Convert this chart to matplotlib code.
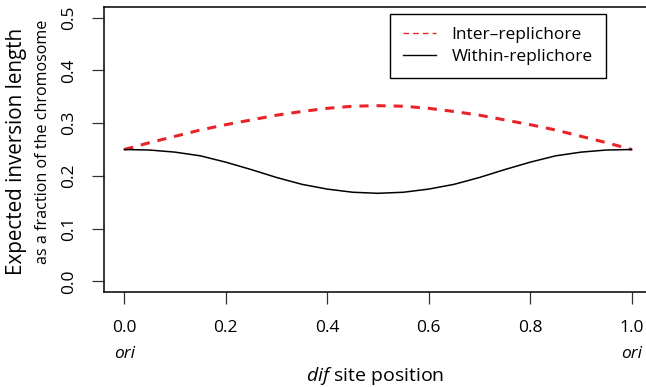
import matplotlib
matplotlib.use("Agg")
import matplotlib.pyplot as plt
import matplotlib.transforms as mtransforms
from matplotlib.lines import Line2D

plt.rcParams['font.family'] = ['Open Sans', 'DejaVu Sans']
plt.rcParams['mathtext.fontset'] = 'custom'
plt.rcParams['mathtext.rm'] = 'Open Sans'
plt.rcParams['mathtext.it'] = 'Open Sans:italic'

# data
dif_position = [0.00, 0.05, 0.10, 0.15, 0.20, 0.25, 0.30, 0.35, 0.40, 0.45, 0.50,
                0.55, 0.60, 0.65, 0.70, 0.75, 0.80, 0.85, 0.90, 0.95, 1.00]
inter_replichore = [0.250, 0.263, 0.275, 0.287, 0.297, 0.306, 0.315, 0.322, 0.328, 0.332, 0.333,
                    0.332, 0.328, 0.322, 0.315, 0.306, 0.297, 0.287, 0.275, 0.263, 0.250]
within_replichore = [0.250, 0.249, 0.245, 0.238, 0.226, 0.212, 0.197, 0.184, 0.175, 0.169, 0.167,
                     0.169, 0.175, 0.184, 0.197, 0.212, 0.226, 0.238, 0.245, 0.249, 0.250]
x_ticks = [0.0, 0.2, 0.4, 0.6, 0.8, 1.0]
x_tick_labels = ["0.0", "0.2", "0.4", "0.6", "0.8", "1.0"]
y_ticks = [0.0, 0.1, 0.2, 0.3, 0.4, 0.5]
y_tick_labels = ["0.0", "0.1", "0.2", "0.3", "0.4", "0.5"]
series_names = ["Inter\u2013replichore", "Within-replichore"]

W, H = 646, 387
fig = plt.figure(figsize=(W / 100, H / 100), dpi=100)
left, right, bottom, top = 104, 652, 292, 7
ax = fig.add_axes([left / W, 1 - bottom / H, (right - left) / W, (bottom - top) / H])

red = "#e8232a"
ax.plot(dif_position, inter_replichore, color=red, lw=2.2, ls=(0, (3.0, 2.6)))
ax.plot(dif_position, within_replichore, color="black", lw=1.1)

ax.set_xlim(-0.04, 1.04)
ax.set_ylim(-0.02, 0.52)
ax.spines['right'].set_visible(False)
for s in ['left', 'top', 'bottom']:
    ax.spines[s].set_linewidth(1.1)

ax.set_xticks(x_ticks)
ax.set_xticklabels(x_tick_labels)
ax.set_yticks(y_ticks)
ax.set_yticklabels(y_tick_labels, rotation=90, va='center')
ax.tick_params(axis='both', direction='out', length=8.5, width=0.9, labelsize=12.5, color='#333333')
ax.tick_params(axis='x', pad=12)
ax.tick_params(axis='y', pad=11)

trans = mtransforms.blended_transform_factory(ax.transData, fig.transFigure)
for xv in (0.0, 1.0):
    ax.text(xv, 1 - 354 / H, "ori", transform=trans, ha='center', va='center',
            fontsize=12.5, style='italic')

fig.text(((left + right) / 2 - 3) / W, 1 - 376 / H, r"$dif$ site position", ha='center', va='center',
         fontsize=14)
fig.text(17 / W, 1 - 151.5 / H, "Expected inversion length", rotation=90, ha='center', va='center',
         fontsize=14.9)
fig.text(43 / W, 1 - 141.5 / H, "as a fraction of the chromosome", rotation=90, ha='center', va='center',
         fontsize=11.6)

handles = [Line2D([], [], color=red, lw=1.0, ls=(0, (4, 3))),
           Line2D([], [], color='black', lw=1.0)]
leg = fig.legend(handles, series_names, loc='upper left', bbox_to_anchor=(390 / W, 1 - 14 / H),
                 borderaxespad=0, fancybox=False, framealpha=1, edgecolor='black',
                 fontsize=12.5, handlelength=1.9, handletextpad=0.9, labelspacing=0.35,
                 borderpad=0.75)
leg.get_frame().set_linewidth(1.0)

fig.savefig("out.png", dpi=100)
